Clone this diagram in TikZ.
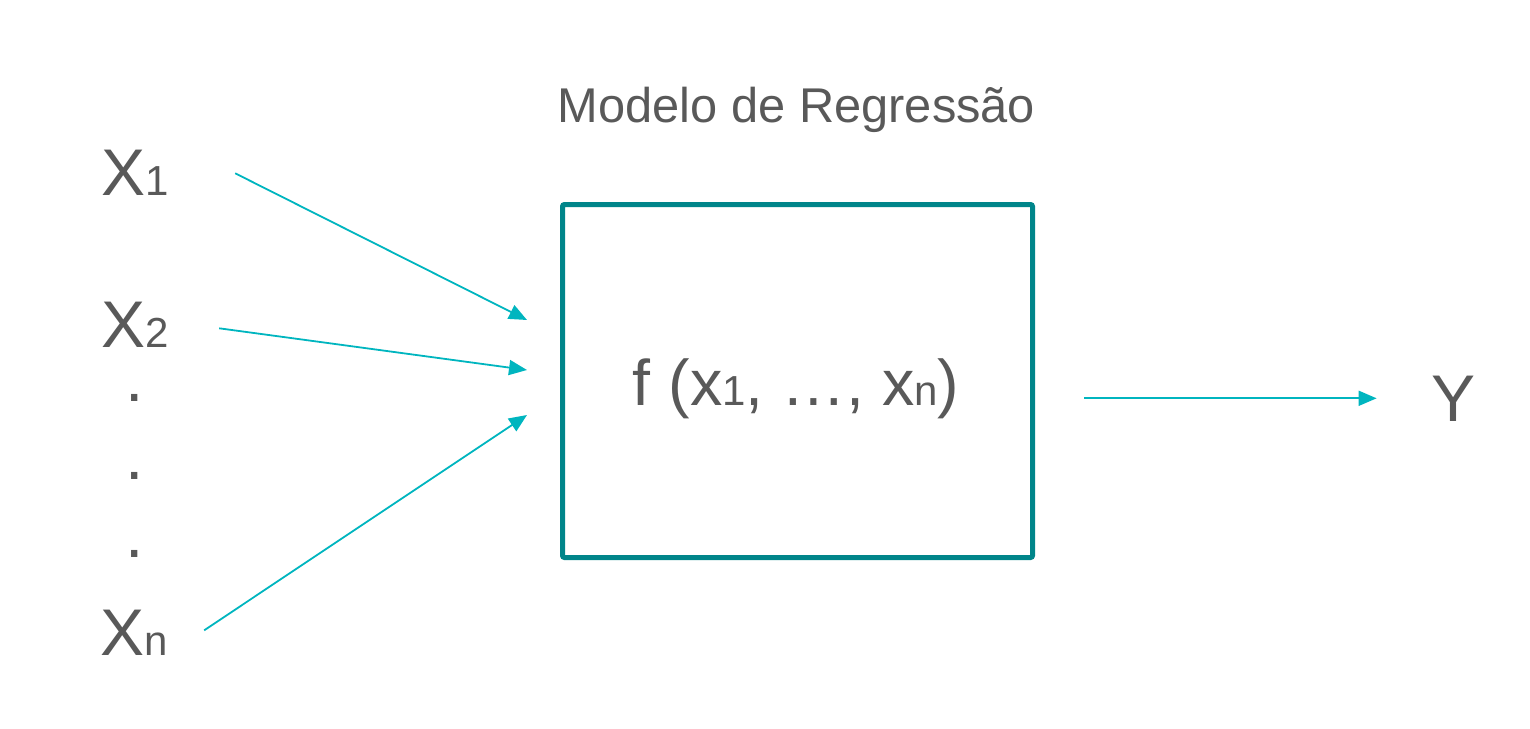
\documentclass[tikz,border=0pt]{standalone}
\usepackage{fontspec}
\setmainfont{Liberation Sans}
\usepackage{xcolor}
\usetikzlibrary{arrows.meta, positioning}

\definecolor{boxteal}{HTML}{00858A}
\definecolor{arrowcyan}{HTML}{00B5BF}
\definecolor{textgray}{HTML}{595959}

% small index digits sitting on the baseline
\newcommand{\smallidx}[1]{{\fontsize{21}{21}\selectfont #1}}

\begin{document}
\begin{tikzpicture}[
                x=0.5pt, y=-0.5pt,
                varlabel/.style={inner sep=0pt, text=textgray, font=\fontsize{33}{33}\selectfont},
                title/.style={inner sep=0pt, text=textgray, font=\fontsize{24.4}{24.4}\selectfont},
                model/.style={rectangle, draw=boxteal, line width=2.5pt, rounded corners=1pt, minimum width=235pt, minimum height=176.5pt, inner sep=0pt},
                flow/.style={-{Triangle[length=9pt, width=7.5pt]}, draw=arrowcyan, line width=0.9pt}
                ]
                \useasboundingbox (0,0) rectangle (1530,728);

                % Title and regression box
                \node[title, anchor=base] (titel) at (796.5,122) {Modelo de Regressão};
                \node[model] (box) at (797.5,381) {};
                \node[varlabel, anchor=base, font=\fontsize{32.3}{32.3}\selectfont] (func) at (796,405) {f (x\smallidx{1}, …, x\smallidx{n})};

                % Input variables
                \node[varlabel, anchor=base west] (x1) at (101,195) {X\smallidx{1}};
                \node[varlabel, anchor=base west] (x2) at (101,347) {X\smallidx{2}};
                \node[varlabel, anchor=base west] (xn) at (100,655) {X\smallidx{n}};
                \foreach \yy/\nm in {401/dota, 479/dotb, 557/dotc}
                    \node[varlabel, anchor=base] (\nm) at (135,\yy) {.};

                % Output
                \node[varlabel, anchor=base] (y) at (1453,421) {Y};

                % Arrow ends in front of the box
                \coordinate (in1) at (527,320);
                \coordinate (in2) at (527,370);
                \coordinate (inn) at (527,415);

                % Connectors
                \draw[flow] ([xshift=33pt, yshift=-0.5pt]x1.east) -- (in1);
                \draw[flow] ([xshift=25pt, yshift=-2pt]x2.east) -- (in2);
                \draw[flow] ([xshift=18pt, yshift=1pt]xn.east) -- (inn);
                \draw[flow, shorten <=24.5pt, shorten >=27pt] (box.east |- y.center) -- (y.west);

\end{tikzpicture}
\end{document}
